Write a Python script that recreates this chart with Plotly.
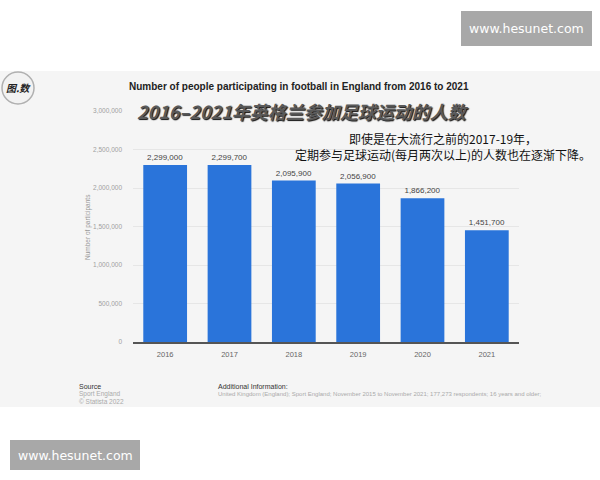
import plotly.graph_objects as go

years = ["2016", "2017", "2018", "2019", "2020", "2021"]
participants = [2299000, 2299700, 2095900, 2056900, 1866200, 1451700]
y_ticks = [0, 500000, 1000000, 1500000, 2000000, 2500000, 3000000]
y_tick_labels = ["0", "500,000", "1,000,000", "1,500,000", "2,000,000", "2,500,000", "3,000,000"]

title_en = "Number of people participating in football in England from 2016 to 2021"
title_cn = "2016–2021年英格兰参加足球运动的人数"
note_line1 = "即使是在大流行之前的2017-19年，"
note_line2 = "定期参与足球运动(每月两次以上)的人数也在逐渐下降。"
y_title = "Number of participants"
watermark = "www.hesunet.com"

W, H = 600, 480
L, R, T, B = 133, 519, 111, 342  # plot area in pixels


def px(x):
    return (x - L) / (R - L)


def py(y):
    return (B - y) / (B - T)


fig = go.Figure()
fig.add_trace(go.Bar(
    x=years, y=participants,
    marker=dict(color="#2a74da", line=dict(width=0)),
    texttemplate="%{y:,}", textposition="outside",
    textfont=dict(family="Liberation Sans, Arial", size=8, color="#444"),
    cliponaxis=False,
))

shapes = [
    dict(type="rect", xref="paper", yref="paper", x0=px(0), x1=px(600), y0=py(71), y1=py(407),
         fillcolor="#f5f5f5", line=dict(width=0), layer="below"),
    dict(type="circle", xref="paper", yref="paper", x0=px(2), x1=px(34), y0=py(104), y1=py(72),
         fillcolor="#f2f2f2", line=dict(color="#b0b0b0", width=1.5)),
    dict(type="rect", xref="paper", yref="paper", x0=px(461), x1=px(592), y0=py(46), y1=py(11),
         fillcolor="#a8a8a8", line=dict(width=0)),
    dict(type="rect", xref="paper", yref="paper", x0=px(10), x1=px(140), y0=py(470), y1=py(440),
         fillcolor="#a8a8a8", line=dict(width=0)),
]

ann = []


def add_text(text, x, y, size, color, family="Liberation Sans, Arial", xanchor="center",
             yanchor="middle", bold=False, **kw):
    extra = kw.pop("font_extra", {})
    ann.append(dict(text=f"<b>{text}</b>" if bold else text, xref="paper", yref="paper",
                    x=px(x), y=py(y), xanchor=xanchor, yanchor=yanchor, showarrow=False,
                    font=dict(family=family, size=size, color=color, **extra),
                    **kw))


add_text(title_en, 299, 86, 10, "#222", bold=True)
add_text(title_cn, 135, 111, 18, "#5a5a5a", family="Noto Sans CJK SC", xanchor="left", bold=True,
         font_extra=dict(style="italic", shadow="1px 1px 1px #111"))
add_text(note_line1 + "<br>" + note_line2, 443, 146, 12, "#111", family="Noto Sans CJK SC",
         align="center")
add_text("图.数", 18, 88, 10, "#222", family="Noto Sans CJK SC", bold=True,
         font_extra=dict(style="italic"))
add_text(y_title, 88, 227, 6.5, "#999", textangle=-90)
add_text("Source", 77, 386, 7, "#333", xanchor="left")
add_text("Sport England", 77, 393.5, 6.5, "#aaa", xanchor="left")
add_text("© Statista 2022", 77, 401, 6.5, "#aaa", xanchor="left")
add_text("Additional Information:", 216, 386, 7, "#333", xanchor="left")
add_text("United Kingdom (England); Sport England; November 2015 to November 2021; 177,273 respondents; 16 years and older;",
         216, 393.5, 6, "#aaa", xanchor="left")
add_text(watermark, 526.5, 28.5, 12.5, "white", family="DejaVu Sans")
add_text(watermark, 75, 455, 12.5, "white", family="DejaVu Sans")

fig.update_layout(
    width=W, height=H,
    margin=dict(l=L, r=W - R, t=T, b=H - B, pad=0),
    paper_bgcolor="white", plot_bgcolor="#f5f5f5",
    bargap=0.32, showlegend=False,
    shapes=shapes, annotations=ann,
    xaxis=dict(showline=True, linecolor="#555", linewidth=1.5, ticks="", showgrid=False,
               tickfont=dict(family="Liberation Sans, Arial", size=7.5, color="#666"),
               ticklabelstandoff=4),
    yaxis=dict(range=[0, 3000000], tickvals=y_ticks, ticktext=y_tick_labels,
               showgrid=True, gridcolor="#e6e6e6", gridwidth=1, zeroline=False, showline=False,
               tickfont=dict(family="Liberation Sans, Arial", size=6.5, color="#a0a0a0"),
               ticklabelstandoff=10),
)

fig.write_html("out.html", config={"displayModeBar": False},
               post_script="document.body.style.margin='0';document.body.style.overflow='hidden';")
